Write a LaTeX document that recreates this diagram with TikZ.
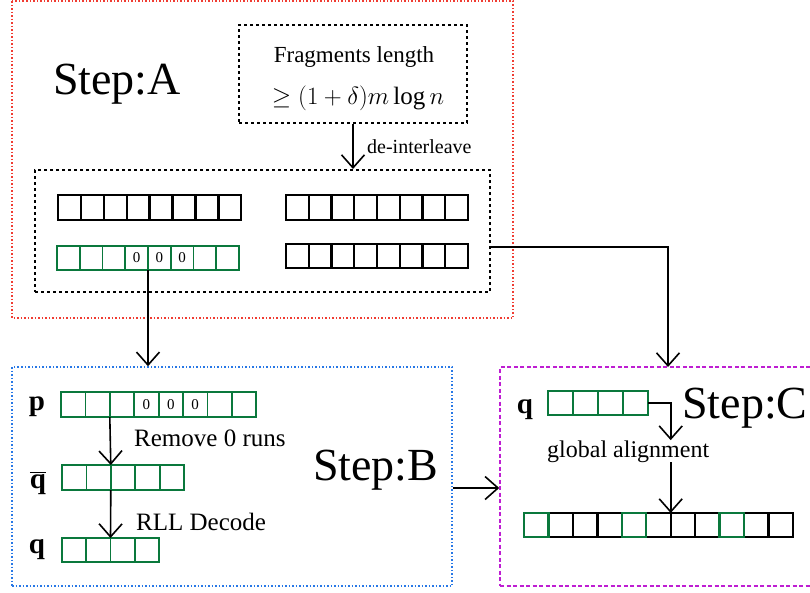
\documentclass[tikz,border=0pt]{standalone}
\usepackage{fontspec}
\setmainfont{Liberation Serif}
\usetikzlibrary{arrows.meta}
\definecolor{stepred}{RGB}{240,60,50}
\definecolor{stepblue}{RGB}{40,120,230}
\definecolor{steppurple}{RGB}{190,30,210}
\definecolor{bitgreen}{RGB}{10,120,60}

\tikzset{
  cell/.style={draw, line width=2.4pt, minimum height=25pt, inner sep=0pt, outer sep=0pt},
  gcell/.style={cell, draw=bitgreen, line width=1.8pt},
  zero/.style={font=\fontsize{15}{15}\selectfont, inner sep=0pt},
  arr/.style={line width=1.6pt, -{Straight Barb[length=13pt,width=23pt,line width=1.6pt]}},
  stepbox/.style={line width=1.5pt, inner sep=0pt},
  steplbl/.style={font=\fontsize{46}{46}\selectfont, anchor=base west, inner sep=0pt},
  vlbl/.style={font=\fontsize{29}{29}\selectfont, anchor=base, inner sep=0pt},
  note/.style={font=\fontsize{25}{25}\selectfont, anchor=base west, inner sep=0pt}
}

% one row of cells: name, left x, centre y, count, cell width, style
\newcommand{\cellrow}[6]{%
  \foreach \i in {1,...,#4}{\node[#6, minimum width=#5pt] (#1-\i) at ({#2+(\i-0.5)*#5},#3) {};}}

\begin{document}
\begin{tikzpicture}[x=1pt,y=-1pt]
  \useasboundingbox (0,0) rectangle (810,592);

  % Step A
  \draw[stepred, line width=1.5pt, dotted] (12,1) rectangle (513,318);
  \node[steplbl] (stepA) at (53,94) {Step:A};
  \node[draw, stepbox, dashed, line width=2pt, minimum width=228pt, minimum height=98pt] (frag) at (353,74) {};
  \node[font=\fontsize{23}{23}\selectfont, anchor=base, inner sep=0pt] (fragtxt) at (354,62) {Fragments length};
  \node[font=\fontsize{25}{25}\selectfont, anchor=base, inner sep=0pt] (fragmath) at (358,104) {$\ge(1+\delta)m\log n$};
  \node[draw, stepbox, dashed, line width=2pt, minimum width=455pt, minimum height=122pt] (inner) at (262.5,231) {};
  \node[font=\fontsize{20}{20}\selectfont, anchor=base west, inner sep=0pt] (deint) at (367,153) {de-interleave};
  \draw[arr] (frag.south) -- (inner.north -| frag.south);

  \cellrow{ta}{58}{207.5}{8}{22.9}{cell}
  \cellrow{tb}{286}{207.5}{8}{22.75}{cell}
  \cellrow{ga}{57}{258}{8}{22.75}{gcell, minimum height=24pt}
  \cellrow{gb}{286}{256}{8}{22.75}{cell, minimum height=24pt}
  \foreach \i in {4,5,6} \node[zero] (gz-\i) at (ga-\i) {0};

  % Step B
  \node[draw=stepblue, stepbox, dotted, minimum width=440pt, minimum height=219pt] (boxB) at (232,476.5) {};
  \node[steplbl] (stepB) at (313,480) {Step:B};
  \draw[arr] (ga-4.south east) -- (ga-4.south east |- boxB.north);

  \cellrow{p}{61}{404.5}{8}{24.4}{gcell}
  \cellrow{qb}{62}{477.5}{5}{24.4}{gcell}
  \cellrow{q}{62}{550}{4}{24.25}{gcell, minimum height=24pt}
  \foreach \i in {4,5,6} \node[zero] (pz-\i) at (p-\i) {0};
  \node[vlbl] (plbl) at (37,410) {$\mathbf{p}$};
  \node[vlbl] (qblbl) at (38,488) {$\overline{\mathbf{q}}$};
  \node[vlbl] (qlbl) at (37,553) {$\mathbf{q}$};
  \draw[arr] (p-2.south east) -- (qb-2.north east);
  \draw[arr] (qb-2.south east) -- (q-2.north east);
  \node[note] (remove) at (134,446) {Remove 0 runs};
  \node[note] (rll) at (136,530) {RLL Decode};

  % Step C
  \node[draw=steppurple, stepbox, dash pattern=on 4pt off 2.5pt, minimum width=312pt, minimum height=219pt] (boxC) at (656,476.5) {};
  \node[steplbl] (stepC) at (682,418) {Step:C};
  \coordinate (cin) at (668,367);
  \draw[arr] ([yshift=-16pt]inner.east) -| (cin);
  \draw[arr] ([yshift=-11.5pt]boxB.east) -- ([yshift=-11.5pt]boxC.west);

  \cellrow{qc}{548}{403}{4}{25}{gcell, minimum height=24pt}
  \node[vlbl] (qclbl) at (525,413) {$\mathbf{q}$};
  \cellrow{big}{524}{525}{11}{24.45}{cell, minimum height=24pt}
  \foreach \i in {1,5,9} \draw[bitgreen, line width=2.4pt] (big-\i.north west) rectangle (big-\i.south east);
  \node[font=\fontsize{24}{24}\selectfont, anchor=base west, inner sep=0pt] (galign) at (547,457) {global alignment};
  \draw[arr] (qc-4.east) -| (big-6.north east |- galign.north);
  \draw[arr] (big-6.north east |- galign.south) -- (big-6.north east);
\end{tikzpicture}
\end{document}
